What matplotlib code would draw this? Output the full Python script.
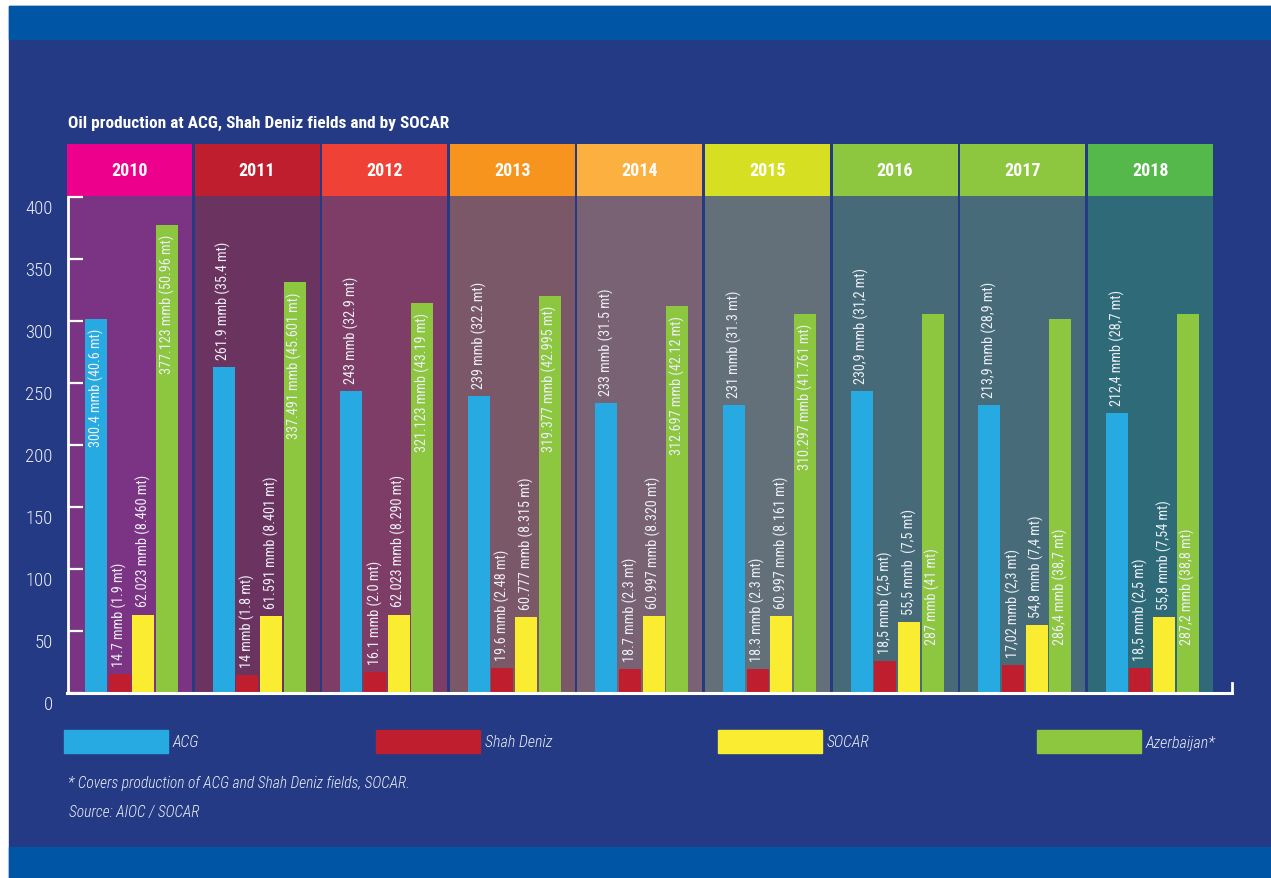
import matplotlib
matplotlib.use("Agg")
import matplotlib.pyplot as plt
from matplotlib import font_manager as fm
from matplotlib.patches import Rectangle
from matplotlib.transforms import ScaledTranslation

# ---- data ----
years = ["2010", "2011", "2012", "2013", "2014", "2015", "2016", "2017", "2018"]

# bar heights as drawn (mmb)
acg = [301.7, 263.0, 243.6, 239.6, 233.9, 232.3, 243.6, 232.3, 225.8]
shah_deniz = [14.8, 14.3, 16.5, 19.9, 19.1, 19.1, 25.6, 22.4, 19.9]
socar = [63.0, 62.0, 63.0, 61.1, 61.9, 61.9, 57.0, 54.7, 61.1]
azerbaijan = [377.6, 331.6, 314.7, 320.3, 312.2, 305.8, 305.8, 301.7, 305.8]

acg_labels = ["300.4 mmb (40.6 mt)", "261.9 mmb (35.4 mt)", "243 mmb (32.9 mt)",
              "239 mmb (32.2 mt)", "233 mmb (31.5 mt)", "231 mmb (31.3 mt)",
              "230,9 mmb (31,2 mt)", "213,9 mmb (28,9 mt)", "212,4 mmb (28,7 mt)"]
sd_labels = ["14.7 mmb (1.9 mt)", "14 mmb (1.8 mt)", "16.1 mmb (2.0 mt)",
             "19.6 mmb (2.48 mt)", "18.7 mmb (2.3 mt)", "18.3 mmb (2.3 mt)",
             "18,5 mmb (2,5 mt)", "17,02 mmb (2,3 mt)", "18,5 mmb (2,5 mt)"]
socar_labels = ["62.023 mmb (8.460 mt)", "61.591 mmb (8.401 mt)", "62.023 mmb (8.290 mt)",
                "60.777 mmb (8.315 mt)", "60.997 mmb (8.320 mt)", "60.997 mmb (8.161 mt)",
                "55,5 mmb  (7,5 mt)", "54,8 mmb (7,4 mt)", "55,8 mmb (7,54 mt)"]
az_labels = ["377.123 mmb (50.96 mt)", "337.491 mmb (45.601 mt)", "321.123 mmb (43.19 mt)",
             "319.377 mmb (42.995 mt)", "312.697 mmb (42.12 mt)", "310.297 mmb (41.761 mt)",
             "287 mmb (41 mt)", "286,4 mmb (38,7 mt)", "287,2 mmb (38,8 mt)"]

series_names = ["ACG", "Shah Deniz", "SOCAR", "Azerbaijan*"]
y_ticks = [0, 50, 100, 150, 200, 250, 300, 350, 400]

# ---- styling ----
BG = "#243a84"
STRIPE = "#0055a4"
TXT = "#eceef5"
BAR_COLORS = ["#27aae1", "#be1e2d", "#f9ec31", "#8dc63f"]
HEADER_COLORS = ["#ec008c", "#be1e2d", "#ef4136", "#f7941d", "#fbb040",
                 "#d7df23", "#8dc63f", "#8dc63f", "#55b84a"]
PANEL_COLORS = ["#7a3483", "#6b3460", "#7d3d67", "#7a5868", "#786273",
                "#636f79", "#476a78", "#486b79", "#2e6a78"]

W, H = 1271, 879


def find_font(weight="normal", style="normal"):
    """Pick a narrow/condensed face if one is installed, else DejaVu Sans."""
    want_w = {"light": 300, "normal": 400, "bold": 700}[weight]
    best, best_score = None, None
    pref = ["Roboto Condensed", "Noto Sans", "Open Sans", "Liberation Sans Narrow", "DejaVu Sans"]
    for f in fm.fontManager.ttflist:
        narrow = ("Narrow" in f.name or "Condensed" in f.name
                  or f.stretch in ("condensed", "semi-condensed"))
        if not narrow:
            continue
        fw = f.weight if isinstance(f.weight, int) else fm.weight_dict.get(f.weight, 400)
        fstyle = "italic" if f.style in ("italic", "oblique") else "normal"
        score = abs(fw - want_w) + (0 if fstyle == style else 1000)
        score += 50 * (pref.index(f.name) if f.name in pref else len(pref))
        if best_score is None or score < best_score:
            best, best_score = f, score
    if best is None:
        return fm.FontProperties(family="DejaVu Sans", weight=weight, style=style), False
    return fm.FontProperties(fname=best.fname), True


f_label, narrow_ok = find_font("normal")
f_tick, _ = find_font("light")
f_bold, _ = find_font("bold")
f_ital, _ = find_font("light", "italic")
shrink = 1.0 if narrow_ok else 0.8


def px(x, y):
    """pixel (from top-left) -> figure fraction"""
    return x / W, 1 - y / H


fig = plt.figure(figsize=(W / 100, H / 100), dpi=100, facecolor="white")

# page background and stripes (behind the axes)
for (x0, y0, x1, y1, c) in [(9, 7, W, H, BG), (9, 7, W, 40, STRIPE), (9, 848, W, H, STRIPE)]:
    fig.patches.append(Rectangle((x0 / W, 1 - y1 / H), (x1 - x0) / W, (y1 - y0) / H,
                                 transform=fig.transFigure, color=c, zorder=-5))

# axes: x from 67px to 1232px, y=0 at 693.7px, top of axes (443 units) at 145px
PITCH = 127.6
ax_l, ax_r, ax_b, ax_t = 67, 1232, 693.7, 145
ax = fig.add_axes([ax_l / W, 1 - ax_b / H, (ax_r - ax_l) / W, (ax_b - ax_t) / H])
ax.set_facecolor("none")
x_max = (ax_r - ax_l) / PITCH
ax.set_xlim(0, x_max)
ax.set_ylim(0, 443)

panel_w = 125 / PITCH
bar_w = 22 / PITCH
offsets = [0.228, 0.413, 0.598, 0.783]

# year panels + headers
for i, yr in enumerate(years):
    ax.bar(i, 401, width=panel_w, align="edge", color=PANEL_COLORS[i], zorder=1)
    ax.bar(i, 42, bottom=401, width=panel_w, align="edge", color=HEADER_COLORS[i],
           zorder=1, clip_on=False)
    ax.text(i + panel_w / 2, 422, yr, ha="center", va="center", color="white",
            fontproperties=f_bold, fontsize=13 * shrink, zorder=5, clip_on=False)

# bars
for k, vals in enumerate([acg, shah_deniz, socar, azerbaijan]):
    xs = [i + offsets[k] for i in range(len(years))]
    ax.bar(xs, vals, width=bar_w, color=BAR_COLORS[k], zorder=2)

lab_kw = dict(rotation=90, ha="center", color=TXT, fontproperties=f_label,
              fontsize=10.3 * shrink, textcoords="offset points", zorder=4)

for i in range(len(years)):
    # ACG: inside the bar for 2010, above it afterwards
    if i == 0:
        ax.annotate(acg_labels[i], (i + offsets[0], acg[i]), xytext=(0, -6.5), va="top", **lab_kw)
    else:
        ax.annotate(acg_labels[i], (i + offsets[0], acg[i]), xytext=(0, 6), va="bottom", **lab_kw)
    ax.annotate(sd_labels[i], (i + offsets[1], shah_deniz[i]), xytext=(0, 6), va="bottom", **lab_kw)
    ax.annotate(socar_labels[i], (i + offsets[2], socar[i]), xytext=(0, 6), va="bottom", **lab_kw)
    # Azerbaijan: inside the bar
    if i < 6:
        ax.annotate(az_labels[i], (i + offsets[3], azerbaijan[i]), xytext=(0, -6.5), va="top", **lab_kw)
    else:
        ax.annotate(az_labels[i], (i + offsets[3], 39.3), xytext=(0, 0), va="bottom", **lab_kw)

# axis lines
for s in ["top", "right"]:
    ax.spines[s].set_visible(False)
ax.spines["left"].set_bounds(0, 400)
ax.spines["left"].set_color("white")
ax.spines["left"].set_linewidth(2)
ax.spines["left"].set_position(("data", 0.008))
ax.spines["bottom"].set_color("white")
ax.spines["bottom"].set_linewidth(2.2)
ax.spines["bottom"].set_zorder(6)
ax.spines["left"].set_zorder(6)
ax.plot([x_max, x_max], [0, 8], color="white", lw=2, clip_on=False, zorder=6)

ax.set_xticks([])
ax.set_yticks(y_ticks)
ax.set_yticklabels([str(t) for t in y_ticks])
ax.tick_params(axis="y", direction="in", length=11, width=1.6, color="white",
               labelcolor=TXT, pad=11, labelsize=13 * shrink)
for lab in ax.get_yticklabels():
    lab.set_fontproperties(f_tick)
    lab.set_fontsize(13.5 * shrink)
    lab.set_transform(lab.get_transform() + ScaledTranslation(0, -9 / 100, fig.dpi_scale_trans))

# title
fig.text(*px(68, 123), "Oil production at ACG, Shah Deniz fields and by SOCAR", ha="left",
         va="center", color="white", fontproperties=f_bold, fontsize=12.4 * shrink)

# legend
leg_x = [64, 376, 718, 1037]
for x0, c, name in zip(leg_x, BAR_COLORS, series_names):
    fig.patches.append(Rectangle(px(x0, 754), 104 / W, 23 / H, transform=fig.transFigure,
                                 color=c, zorder=2))
    fig.text(*px(x0 + 109, 743), name, ha="left", va="center", color=TXT,
             fontproperties=f_ital, fontsize=11.5 * shrink)

# footnotes
fig.text(*px(68, 783), "* Covers production of ACG and Shah Deniz fields, SOCAR.", ha="left",
         va="center", color=TXT, fontproperties=f_ital, fontsize=11.2 * shrink)
fig.text(*px(69, 813), "Source: AIOC / SOCAR", ha="left", va="center", color=TXT,
         fontproperties=f_ital, fontsize=11.2 * shrink)

fig.savefig("out.png", dpi=100, facecolor="white")
